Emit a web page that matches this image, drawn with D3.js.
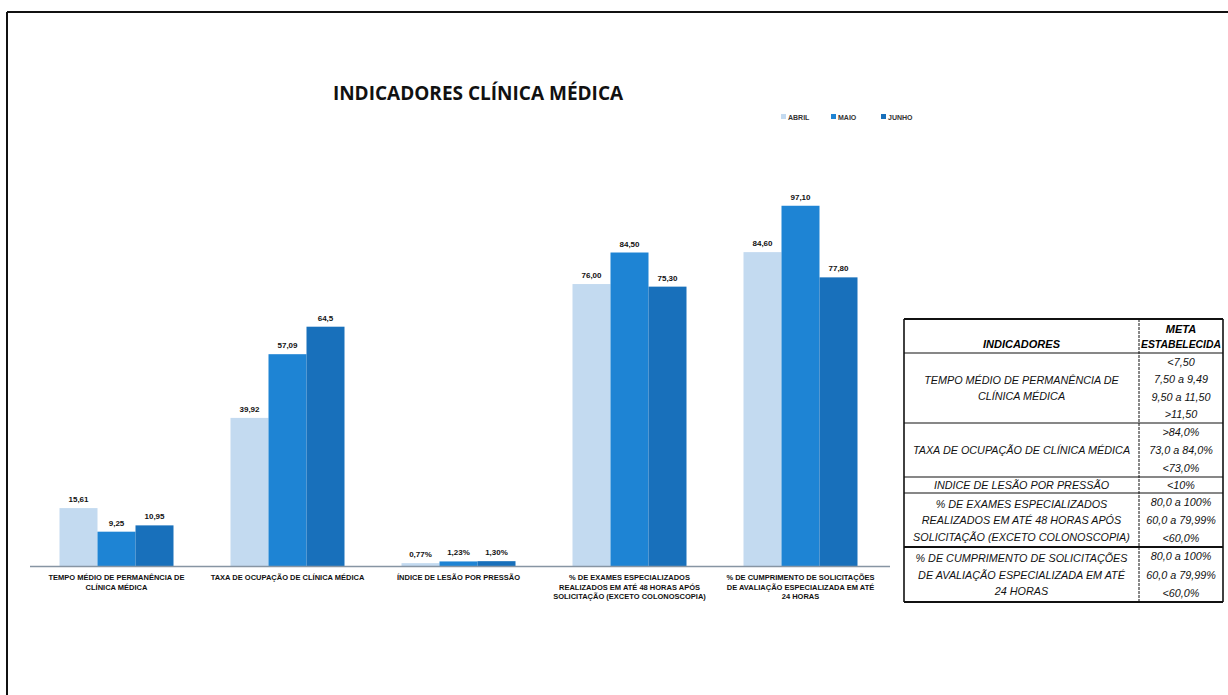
<!DOCTYPE html>
<html><head><meta charset="utf-8">
<script src="https://cdn.jsdelivr.net/npm/d3@7"></script>
<style>body{margin:0;background:#fff;} svg{display:block;}</style>
</head><body>
<script>
// ---- DATA ----
const categories = [
  ["TEMPO MÉDIO DE PERMANÊNCIA DE", "CLÍNICA MÉDICA"],
  ["TAXA DE OCUPAÇÃO DE CLÍNICA MÉDICA"],
  ["ÍNDICE DE LESÃO POR PRESSÃO"],
  ["% DE EXAMES ESPECIALIZADOS", "REALIZADOS EM ATÉ 48 HORAS APÓS", "SOLICITAÇÃO (EXCETO COLONOSCOPIA)"],
  ["% DE CUMPRIMENTO DE SOLICITAÇÕES", "DE AVALIAÇÃO ESPECIALIZADA EM ATÉ", "24 HORAS"]
];
const seriesNames = ["ABRIL", "MAIO", "JUNHO"];
const abril = [15.61, 39.92, 0.77, 76.00, 84.60];
const maio  = [9.25, 57.09, 1.23, 84.50, 97.10];
const junho = [10.95, 64.5, 1.30, 75.30, 77.80];
const abrilLabels = ["15,61", "39,92", "0,77%", "76,00", "84,60"];
const maioLabels  = ["9,25", "57,09", "1,23%", "84,50", "97,10"];
const junhoLabels = ["10,95", "64,5", "1,30%", "75,30", "77,80"];
const colors = ["#c3daf0", "#1e84d4", "#1870bb"];

const tableRows = [
  {ind: ["TEMPO MÉDIO DE PERMANÊNCIA DE", "CLÍNICA MÉDICA"], meta: ["<7,50", "7,50 a 9,49", "9,50 a 11,50", ">11,50"]},
  {ind: ["TAXA DE OCUPAÇÃO DE CLÍNICA MÉDICA"], meta: [">84,0%", "73,0 a 84,0%", "<73,0%"]},
  {ind: ["INDICE DE LESÃO POR PRESSÃO"], meta: ["<10%"]},
  {ind: ["% DE EXAMES ESPECIALIZADOS", "REALIZADOS EM ATÉ 48 HORAS APÓS", "SOLICITAÇÃO (EXCETO COLONOSCOPIA)"], meta: ["80,0 a 100%", "60,0 a 79,99%", "<60,0%"]},
  {ind: ["% DE CUMPRIMENTO DE SOLICITAÇÕES", "DE AVALIAÇÃO ESPECIALIZADA EM ATÉ", "24 HORAS"], meta: ["80,0 a 100%", "60,0 a 79,99%", "<60,0%"]}
];

// ---- CHART ----
const W = 1228, H = 695;
const svg = d3.select("body").append("svg").attr("width", W).attr("height", H);
svg.append("rect").attr("width", W).attr("height", H).attr("fill", "#fff");

// frame
svg.append("line").attr("x1", 7).attr("x2", W).attr("y1", 12).attr("y2", 12).attr("stroke", "#111").attr("stroke-width", 2);
svg.append("line").attr("x1", 7).attr("x2", 7).attr("y1", 12).attr("y2", H).attr("stroke", "#111").attr("stroke-width", 2);

// title
svg.append("text").attr("x", 478).attr("y", 100).attr("text-anchor", "middle")
  .attr("font-family", "Open Sans, sans-serif").attr("font-weight", "bold").attr("font-size", 19)
  .attr("fill", "#111").text("INDICADORES CLÍNICA MÉDICA");

const x0 = d3.scaleBand().domain(d3.range(categories.length)).range([31, 886]).paddingInner(1/3).paddingOuter(1/6);
const x1 = d3.scaleBand().domain(seriesNames).range([0, x0.bandwidth()]);
const y = d3.scaleLinear().domain([0, 100]).range([566, 195]);

const seriesVals = [abril, maio, junho];
const seriesLabels = [abrilLabels, maioLabels, junhoLabels];

seriesNames.forEach((s, si) => {
  const g = svg.append("g");
  g.selectAll("rect").data(seriesVals[si]).join("rect")
    .attr("x", (d, i) => x0(i) + x1(s))
    .attr("y", d => y(d))
    .attr("width", x1.bandwidth())
    .attr("height", d => y(0) - y(d))
    .attr("fill", colors[si]);
  g.selectAll("text").data(seriesVals[si]).join("text")
    .attr("x", (d, i) => x0(i) + x1(s) + x1.bandwidth() / 2)
    .attr("y", d => y(d) - 6)
    .attr("text-anchor", "middle")
    .attr("font-family", "Liberation Sans, Arial, sans-serif").attr("font-weight", "bold")
    .attr("font-size", 8).attr("fill", "#111")
    .text((d, i) => seriesLabels[si][i]);
});

// x axis line
svg.append("line").attr("x1", 30).attr("x2", 890).attr("y1", y(0) + 0.5).attr("y2", y(0) + 0.5)
  .attr("stroke", "#8795a3").attr("stroke-width", 1.5);

// category labels
categories.forEach((lines, i) => {
  const t = svg.append("text").attr("text-anchor", "middle")
    .attr("font-family", "Liberation Sans, Arial, sans-serif").attr("font-weight", "bold")
    .attr("font-size", 7.5).attr("fill", "#111");
  lines.forEach((ln, k) => {
    t.append("tspan").attr("x", x0(i) + x0.bandwidth() / 2).attr("y", 580 + k * 9.5).text(ln);
  });
});

// legend
const legX = [781, 831, 881];
seriesNames.forEach((s, i) => {
  svg.append("rect").attr("x", legX[i]).attr("y", 114).attr("width", 5).attr("height", 5).attr("fill", colors[i]);
  svg.append("text").attr("x", legX[i] + 7).attr("y", 119.5)
    .attr("font-family", "Liberation Sans, Arial, sans-serif").attr("font-size", 7).attr("font-weight", "bold")
    .attr("fill", "#333").text(s);
});

// ---- TABLE ----
const tx0 = 904, tx1 = 1139, tx2 = 1223;
const rowBounds = [319, 353, 423, 477, 493, 547, 602];
const tf = "Liberation Sans, Arial, sans-serif";
const fs = 10.8;
const tb = svg.append("g");
// header
tb.append("text").attr("x", (tx0 + tx1) / 2).attr("y", 348).attr("text-anchor", "middle")
  .attr("font-family", tf).attr("font-style", "italic").attr("font-weight", "bold").attr("font-size", 11)
  .text("INDICADORES");
tb.append("text").attr("x", (tx1 + tx2) / 2).attr("y", 333).attr("text-anchor", "middle")
  .attr("font-family", tf).attr("font-style", "italic").attr("font-weight", "bold").attr("font-size", 11)
  .text("META");
tb.append("text").attr("x", (tx1 + tx2) / 2).attr("y", 348).attr("text-anchor", "middle")
  .attr("font-family", tf).attr("font-style", "italic").attr("font-weight", "bold").attr("font-size", 10)
  .attr("textLength", 80).attr("lengthAdjust", "spacingAndGlyphs")
  .text("ESTABELECIDA");

tableRows.forEach((r, i) => {
  const top = rowBounds[i + 1], bot = rowBounds[i + 2];
  const n = r.meta.length;
  const lh = (bot - top) / n;
  r.meta.forEach((m, k) => {
    tb.append("text").attr("x", (tx1 + tx2) / 2).attr("y", top + lh * (k + 0.5) + 4)
      .attr("text-anchor", "middle").attr("font-family", tf).attr("font-style", "italic")
      .attr("font-size", fs).attr("fill", "#111").text(m);
  });
  const ilh = 16.5;
  const mid = (top + bot) / 2;
  const startY = mid - (r.ind.length - 1) * ilh / 2;
  r.ind.forEach((ln, k) => {
    tb.append("text").attr("x", (tx0 + tx1) / 2).attr("y", startY + k * ilh + 4)
      .attr("text-anchor", "middle").attr("font-family", tf).attr("font-style", "italic")
      .attr("font-size", fs).attr("fill", "#111").text(ln);
  });
});
// lines
rowBounds.forEach((yy, i) => {
  tb.append("line").attr("x1", tx0).attr("x2", tx2).attr("y1", yy).attr("y2", yy)
    .attr("stroke", "#111").attr("stroke-width", (i === 0 || i === rowBounds.length - 1 || i === 5) ? 1.8 : 1.1);
});
[tx0, tx1, tx2].forEach((xx, i) => {
  tb.append("line").attr("x1", xx).attr("x2", xx).attr("y1", rowBounds[0]).attr("y2", rowBounds[rowBounds.length - 1])
    .attr("stroke", "#111").attr("stroke-width", i === 1 ? 1 : 1.6)
    .attr("stroke-dasharray", i === 1 ? "3,1" : null);
});
</script>
</body></html>
